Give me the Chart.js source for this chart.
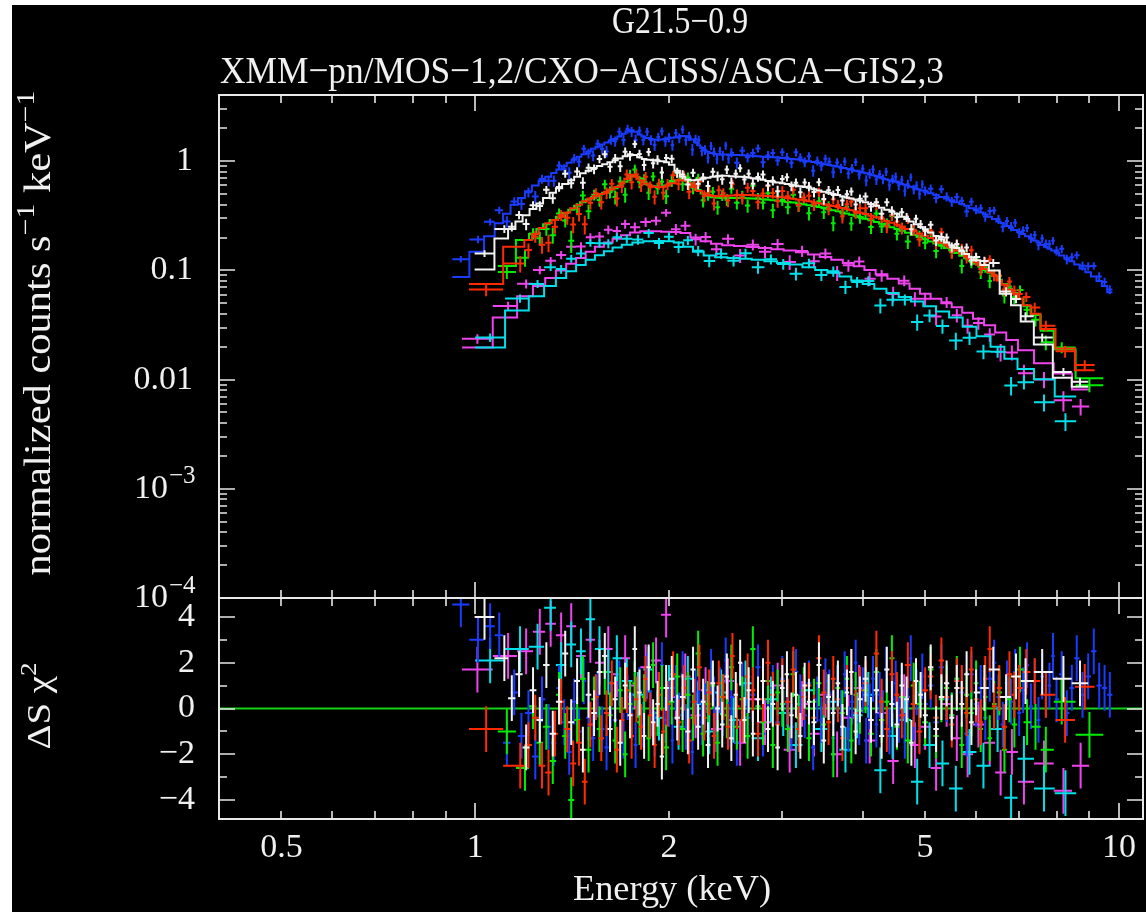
<!DOCTYPE html>
<html><head><meta charset="utf-8">
<script src="https://cdn.jsdelivr.net/npm/chart.js@4/dist/chart.umd.min.js"></script>
<style>
html,body{margin:0;padding:0;background:#fff;}
#wrap{position:absolute;left:0;top:0;width:1146px;height:912px;overflow:hidden;}
#bg{position:absolute;left:12px;top:5px;width:1134px;height:907px;background:#000;}
canvas{position:absolute;left:0;top:0;width:1146px;height:912px;}
</style></head><body>
<div id="wrap"><div id="bg"></div>
<canvas id="topc" width="1146" height="912"></canvas>
<canvas id="botc" width="1146" height="912"></canvas>
</div>
<script>
// ---------------- DATA ----------------
// energies = bin centres (keV); model = folded model (step line); resid = delta-chi residual
const energyWhite = [1.034,1.11,
1.14,1.17,1.20,1.23,1.26,1.29,1.32,1.35,1.38,1.41,1.44,1.47,1.50,1.53,1.56,1.59,1.62,1.65,1.68,1.71,1.74,1.77,1.80,1.83,1.86,1.89,1.92,1.95,1.98,
2.02,2.06,2.10,2.14,2.18,2.22,2.26,2.30,2.34,2.38,2.42,2.46,2.50,2.54,2.58,2.62,2.66,2.70,2.75,2.80,2.85,2.90,2.95,3.00,3.05,3.10,3.15,3.20,3.25,3.30,3.36,3.42,3.48,3.54,3.60,3.66,3.72,3.78,3.84,3.90,3.96,
4.04,4.12,4.20,4.28,4.36,4.44,4.52,4.60,4.68,4.76,4.84,4.92,5.00,5.10,5.20,5.30,5.40,5.50,5.60,5.70,5.80,5.90,6.00,6.18,6.38,
6.68,6.92,7.16,7.60,8.20,8.70];
const modelWhite = [0.102,0.196,
0.24,0.28,0.32,0.365,0.41,0.46,0.515,0.565,0.62,0.67,0.72,0.775,0.82,0.865,0.905,0.94,0.98,1.02,1.06,1.11,1.16,1.14,1.09,1.05,1.03,1.02,1.01,1.00,0.98,
0.93,0.82,0.72,0.68,0.67,0.675,0.69,0.705,0.72,0.73,0.735,0.735,0.73,0.725,0.72,0.715,0.71,0.70,0.69,0.675,0.66,0.65,0.64,0.63,0.62,0.61,0.60,0.59,0.58,0.57,0.555,0.54,0.525,0.515,0.50,0.49,0.475,0.465,0.455,0.445,0.435,
0.42,0.405,0.39,0.375,0.36,0.345,0.33,0.31,0.295,0.28,0.265,0.25,0.238,0.222,0.207,0.193,0.18,0.17,0.16,0.15,0.141,0.132,0.124,0.112,0.10,
0.061,0.048,0.034,0.021,0.0104,0.0086];
const residWhite = [4.0,2.2,
0.45,1.5,-1.7,0.8,-0.5,1.9,-1.1,0.3,2.4,-0.6,1.2,-1.8,0.6,-0.2,1.6,2.3,-0.9,0.4,-1.5,1.0,-0.3,2.6,0.7,-1.2,1.8,-0.6,0.2,-2.1,0.9,
1.3,-0.4,0.5,-1.0,1.7,-0.8,0.3,-1.6,1.1,0.0,-0.7,1.4,-1.3,0.6,2.0,-0.5,0.8,-1.1,0.4,1.2,-0.9,0.2,-1.7,0.9,1.5,-0.3,0.6,-1.2,1.0,0.3,-0.6,1.9,-1.4,0.5,-0.2,1.1,-0.8,0.7,1.6,-1.0,0.4,
1.3,-0.5,0.8,-1.2,1.7,0.2,-0.7,1.0,0.4,-1.5,1.2,0.6,-0.3,1.8,-0.9,0.5,1.1,-0.4,0.9,0.2,1.5,-0.6,0.7,0.9,1.7,
0.5,1.4,1.2,1.6,1.3,1.1];

const energyRed = [1.04,1.175,
1.21,1.24,1.27,1.30,1.33,1.36,1.39,1.42,1.45,1.48,1.51,1.54,1.57,1.60,1.63,1.66,1.69,1.72,1.75,1.78,1.81,1.84,1.87,1.90,1.93,1.96,1.99,
2.03,2.07,2.11,2.15,2.19,2.23,2.27,2.31,2.35,2.39,2.43,2.47,2.51,2.55,2.60,2.65,2.70,2.75,2.80,2.85,2.90,2.95,3.00,3.06,3.12,3.18,3.24,3.30,3.36,3.42,3.48,3.54,3.60,3.66,3.72,3.78,3.84,3.90,3.96,
4.04,4.12,4.20,4.28,4.36,4.44,4.52,4.60,4.70,4.80,4.90,5.00,5.10,5.20,5.30,5.40,5.50,5.60,5.70,5.80,5.90,6.00,6.10,6.20,6.30,6.40,6.52,6.64,6.76,6.88,7.00,7.18,
7.40,7.70,8.25,8.85];
const modelRed = [0.075,0.165,
0.19,0.215,0.245,0.27,0.29,0.31,0.34,0.37,0.40,0.43,0.455,0.48,0.50,0.525,0.55,0.58,0.625,0.69,0.75,0.72,0.665,0.625,0.60,0.585,0.58,0.585,0.60,
0.63,0.67,0.665,0.63,0.58,0.535,0.505,0.49,0.48,0.478,0.48,0.482,0.485,0.487,0.49,0.49,0.488,0.486,0.483,0.48,0.476,0.472,0.467,0.461,0.454,0.446,0.438,0.43,0.421,0.412,0.404,0.396,0.388,0.38,0.372,0.364,0.356,0.347,0.338,
0.328,0.317,0.306,0.295,0.284,0.273,0.262,0.252,0.24,0.229,0.218,0.208,0.198,0.189,0.179,0.17,0.161,0.152,0.143,0.135,0.127,0.119,0.111,0.103,0.096,0.089,0.081,0.074,0.067,0.061,0.055,0.048,
0.040,0.029,0.0193,0.0122];
const residRed = [-0.9,-2.5,
-1.6,-0.4,-2.5,-2.8,-1.1,0.3,-0.9,-2.4,-1.5,-3.2,-0.7,0.5,-1.3,-0.2,1.1,-1.8,-0.5,0.8,-1.2,0.4,-0.8,1.3,-0.3,-1.6,0.6,-1.0,0.2,
1.5,-0.6,0.9,-1.4,0.3,1.8,-0.4,0.7,-1.2,1.1,0.5,-0.8,2.3,0.1,-0.5,1.4,0.8,-1.1,0.4,2.0,0.6,-0.7,1.2,0.3,1.7,-0.9,0.5,1.0,-0.4,2.2,0.7,-0.6,1.3,0.4,-1.3,0.9,1.6,-0.2,0.8,
1.1,-0.5,2.4,0.3,-0.9,1.5,0.6,-0.3,1.9,0.2,-1.0,0.8,1.4,-0.4,2.1,0.5,-0.7,1.2,0.9,-0.2,1.7,0.4,-0.6,1.3,2.6,0.1,0.9,-0.8,1.5,0.6,0.9,1.6,
1.2,0.6,-0.5,0.95];

const energyGreen = [1.12,1.195,
1.23,1.26,1.29,1.32,1.35,1.38,1.41,1.44,1.47,1.50,1.53,1.56,1.59,1.62,1.65,1.68,1.71,1.74,1.77,1.80,1.83,1.86,1.89,1.92,1.95,1.98,
2.02,2.06,2.10,2.14,2.18,2.22,2.26,2.30,2.34,2.38,2.42,2.46,2.50,2.55,2.60,2.65,2.70,2.75,2.80,2.85,2.90,2.95,3.00,3.06,3.12,3.18,3.24,3.30,3.36,3.42,3.48,3.54,3.60,3.66,3.72,3.78,3.84,3.90,3.96,
4.04,4.12,4.20,4.28,4.36,4.44,4.52,4.60,4.70,4.80,4.90,5.00,5.10,5.20,5.30,5.40,5.50,5.60,5.70,5.80,5.90,6.00,6.10,6.20,6.30,6.40,6.52,6.64,6.76,6.88,7.02,7.20,
7.42,7.70,8.15,9.0];
const modelGreen = [0.11,0.19,
0.215,0.24,0.265,0.29,0.31,0.335,0.36,0.39,0.42,0.445,0.47,0.495,0.515,0.54,0.565,0.595,0.65,0.73,0.74,0.70,0.645,0.61,0.59,0.58,0.585,0.60,
0.635,0.67,0.69,0.66,0.60,0.545,0.505,0.48,0.468,0.462,0.46,0.46,0.46,0.46,0.46,0.458,0.455,0.452,0.448,0.444,0.44,0.435,0.43,0.424,0.418,0.411,0.404,0.396,0.388,0.38,0.372,0.364,0.356,0.348,0.34,0.332,0.324,0.316,0.308,
0.298,0.288,0.278,0.268,0.258,0.249,0.24,0.231,0.221,0.211,0.202,0.193,0.184,0.176,0.168,0.16,0.152,0.144,0.136,0.129,0.122,0.115,0.108,0.101,0.095,0.089,0.082,0.075,0.068,0.062,0.055,0.047,
0.039,0.028,0.019,0.0103];
const residGreen = [-1.0,-2.6,
0.1,-1.5,-0.8,-2.3,0.6,-1.2,-4.0,-0.5,1.3,-1.8,0.4,-0.9,1.6,-0.3,-1.4,0.8,-2.0,0.2,1.1,-0.6,0.5,-1.3,1.9,-0.2,0.9,-1.7,
0.3,1.4,-0.9,0.6,-0.4,2.4,-1.1,0.2,1.0,-1.5,0.5,-0.3,1.8,-0.8,0.4,-1.2,2.6,0.1,-0.6,1.2,-1.6,0.7,0.2,-0.9,1.5,-0.4,0.8,-1.3,0.3,1.1,-0.7,0.5,-2.0,0.9,-0.2,1.3,-1.4,0.6,-0.1,
0.8,-1.1,1.6,-0.5,0.3,2.2,-0.8,0.5,-1.4,1.0,0.2,-0.6,1.7,-1.2,0.4,0.9,-0.3,1.3,-1.6,0.6,-0.2,1.1,-0.9,0.5,-1.3,0.2,0.7,-1.8,0.4,-0.7,1.7,-0.6,
-0.8,-1.8,0.3,-1.15];

const energyBlue = [0.95,1.01,1.055,1.09,1.12,1.15,1.18,1.21,1.24,1.27,1.30,
1.325,1.35,1.375,1.40,1.425,1.45,1.475,1.50,1.525,1.55,1.575,1.60,1.625,1.65,1.675,1.70,1.725,1.75,1.775,1.80,1.825,1.85,1.875,1.90,1.925,1.95,1.975,2.00,2.025,2.05,2.075,2.10,2.125,2.15,2.175,2.20,2.225,2.25,2.275,2.30,2.325,2.35,2.375,2.40,2.425,2.45,2.475,2.50,
2.55,2.60,2.65,2.70,2.75,2.80,2.85,2.90,2.95,3.00,3.05,3.10,3.15,3.20,3.25,3.30,3.35,3.40,3.45,3.50,3.55,3.60,3.65,3.70,3.75,3.80,3.85,3.90,3.95,4.00,4.05,4.10,4.15,4.20,4.25,4.30,4.35,4.40,4.45,4.50,4.55,4.60,4.65,4.70,4.75,4.80,4.85,4.90,4.95,5.00,
5.1,5.2,5.3,5.4,5.5,5.6,5.7,5.8,5.9,6.0,6.1,6.2,6.3,6.4,6.5,6.6,6.7,6.8,6.9,7.0,7.1,7.2,7.3,7.4,7.5,7.6,7.7,7.8,7.9,8.0,
8.15,8.3,8.45,8.6,8.78,8.96,9.14,9.32,9.5,9.68];
const modelBlue = [0.087,0.148,0.205,0.27,0.33,0.40,0.46,0.53,0.60,0.66,0.72,
0.78,0.84,0.90,0.97,1.03,1.10,1.16,1.23,1.30,1.36,1.42,1.48,1.54,1.60,1.68,1.78,1.88,1.92,1.86,1.76,1.68,1.63,1.60,1.58,1.57,1.58,1.60,1.62,1.64,1.66,1.68,1.70,1.69,1.65,1.58,1.49,1.40,1.32,1.26,1.22,1.19,1.17,1.16,1.15,1.15,1.15,1.14,1.14,
1.14,1.135,1.13,1.12,1.11,1.10,1.095,1.09,1.08,1.07,1.06,1.05,1.04,1.03,1.01,1.00,0.985,0.97,0.955,0.94,0.925,0.91,0.895,0.88,0.865,0.85,0.835,0.82,0.805,0.79,0.775,0.76,0.745,0.73,0.715,0.70,0.685,0.67,0.66,0.65,0.635,0.62,0.61,0.60,0.585,0.575,0.56,0.55,0.54,0.525,
0.51,0.49,0.47,0.455,0.44,0.42,0.405,0.39,0.37,0.355,0.34,0.325,0.31,0.295,0.28,0.27,0.255,0.245,0.235,0.225,0.215,0.205,0.196,0.188,0.18,0.172,0.165,0.158,0.152,0.146,
0.137,0.129,0.121,0.113,0.104,0.096,0.088,0.08,0.072,0.063];
const residBlue = [4.55,3.0,3.6,3.2,-1.5,0.7,-1.2,-0.2,-2.1,0.4,-0.8,
-1.5,0.9,-0.6,-1.9,0.3,-1.0,1.2,-0.4,-1.3,0.6,-0.9,-1.7,0.2,-0.5,1.1,-1.2,0.5,-0.3,-1.6,0.8,-0.7,1.4,-0.2,-1.1,0.6,1.9,-0.5,0.2,-1.4,0.9,-0.3,1.5,-0.8,0.3,-1.9,0.7,1.2,-0.6,0.1,-1.2,1.6,0.4,-0.9,0.8,-0.2,2.1,-0.7,0.5,
-1.5,1.0,-0.4,0.6,1.8,-1.1,0.3,0.9,-0.6,1.3,0.2,-0.8,1.6,0.5,-0.3,1.1,-1.7,0.4,-0.5,1.2,0.7,-1.3,0.9,-0.2,1.5,-0.9,0.3,2.0,-0.6,0.8,-1.4,0.1,1.3,-0.7,0.6,-0.2,1.7,-1.0,0.4,1.1,-0.5,0.9,-1.2,0.3,2.2,-0.4,0.7,-0.9,1.4,0.2,
1.0,-0.6,1.8,0.4,-0.3,1.2,0.7,-1.1,1.5,0.2,0.9,-0.4,1.3,2.0,0.5,-0.7,1.1,0.3,1.6,-0.2,0.8,1.9,0.1,1.2,-0.5,1.4,0.6,1.0,2.3,0.4,
1.5,-0.2,0.9,2.2,0.6,1.4,2.5,1.0,0.9,0.6];

const energyCyan = [1.055,1.174,1.25,1.31,1.36,1.41,1.46,1.51,1.56,1.61,1.66,1.72,1.79,1.86,1.93,2.00,2.07,2.14,2.22,2.31,2.41,2.52,2.63,2.75,2.88,3.01,3.15,3.30,3.45,3.60,3.76,3.92,4.08,4.26,4.45,4.65,4.86,5.08,5.32,5.58,5.86,6.16,6.48,6.80,7.12,7.65,8.26];
const modelCyan = [0.0197,0.043,0.058,0.072,0.085,0.098,0.112,0.125,0.138,0.15,
0.162,0.172,0.18,0.185,0.186,0.185,0.18,0.165,0.148,0.137,
0.132,0.13,0.128,0.125,0.121,0.117,0.113,0.107,0.101,0.095,
0.088,0.081,0.075,0.068,0.062,0.057,0.052,0.047,0.042,0.037,
0.0305,0.025,0.02,0.0155,0.0125,0.0101,0.0070];
const residCyan = [2.1,2.6,2.7,4.4,1.9,2.8,2.5,3.9,2.6,1.6,
2.2,1.2,0.6,1.7,-0.4,0.9,-0.8,1.3,0.2,-1.0,
0.7,-0.5,1.1,-1.3,0.4,-0.2,-1.6,0.8,-0.9,0.3,
-1.8,-0.3,0.6,-2.7,-1.2,-0.5,-3.2,-1.6,-2.4,-3.5,
-1.9,-2.5,-0.9,-3.9,-2.2,-3.5,-3.7];

const energyMagenta = [1.008,1.125,1.20,1.26,1.31,1.36,1.41,1.46,1.51,1.56,1.61,1.66,1.71,1.77,1.84,1.91,1.98,2.05,2.12,2.20,2.28,2.37,2.47,2.58,2.70,2.82,2.95,3.08,3.22,3.36,3.50,3.65,3.80,3.95,4.10,4.28,4.46,4.64,4.82,5.00,5.20,5.40,5.60,5.82,6.05,6.30,6.55,6.82,7.12,7.65,8.20,8.72];
const modelMagenta = [0.0197,0.037,0.058,0.072,0.085,0.10,0.115,0.13,0.148,0.165,
0.18,0.195,0.21,0.222,0.228,0.228,0.226,0.225,0.22,0.20,
0.185,0.175,0.17,0.167,0.164,0.16,0.156,0.152,0.147,0.14,
0.133,0.125,0.117,0.109,0.101,0.092,0.084,0.076,0.068,0.061,
0.055,0.05,0.046,0.041,0.036,0.0315,0.027,0.023,0.0186,0.0141,0.0114,0.0081];
const residMagenta = [1.7,2.3,2.5,3.35,3.7,3.2,3.6,2.3,3.0,2.0,
2.6,1.5,2.2,1.0,1.8,2.1,4.1,0.5,1.4,-0.3,
0.8,-0.9,1.2,-1.5,0.4,-0.6,1.0,-1.8,0.2,-1.1,
0.6,-2.0,-0.4,0.9,-1.4,-0.2,-2.3,0.5,-1.6,-0.8,
-2.6,0.2,-1.3,-2.0,-0.7,-1.5,-2.8,-1.9,-3.2,-2.4,-3.6,-2.5];

// fractional 1-sigma error of each data group
const seriesErrFrac = [0.10,0.12,0.12,0.10,0.11,0.12];
const seriesColors = ['#f2f2f2','#ff2a00','#00ee00','#1a3cff','#00e0ea','#ee44ee'];

// axes / tick labels
const xMinorTicks = [0.5,0.6,0.7,0.8,0.9,2,3,4,5,6,7,8,9];
const xMajorTicks = [1,10];
const xTickValues = [0.5,1,2,5,10];
const xTickLabels = ['0.5','1','2','5','10'];
const yTickValues = [1,0.1,0.01,1e-3,1e-4];
const yTickBase = ['1','0.1','0.01','10','10'];
const yTickExp = ['','','','\u22123','\u22124'];
const resTickValues = [4,2,0,-2,-4];
const resTickLabels = ['4','2','0','\u22122','\u22124'];
const resMinorTicks = [3,1,-1,-3];

// ---------------- BUILD ----------------
const series = [
  {E:energyWhite,M:modelWhite,R:residWhite},
  {E:energyRed,M:modelRed,R:residRed},
  {E:energyGreen,M:modelGreen,R:residGreen},
  {E:energyBlue,M:modelBlue,R:residBlue},
  {E:energyCyan,M:modelCyan,R:residCyan},
  {E:energyMagenta,M:modelMagenta,R:residMagenta}
];
function binEdges(E){
  const n=E.length, lo=[], hi=[];
  for(let i=0;i<n;i++){
    lo[i] = i>0 ? Math.sqrt(E[i-1]*E[i]) : null;
    hi[i] = i<n-1 ? Math.sqrt(E[i]*E[i+1]) : null;
  }
  lo[0] = E[0]*E[0]/hi[0];
  hi[n-1] = E[n-1]*E[n-1]/lo[n-1];
  return {lo,hi};
}
const topDatasets=[], botDatasets=[];
series.forEach((s,k)=>{
  const {lo,hi} = binEdges(s.E);
  const col = seriesColors[k], f = seriesErrFrac[k];
  const stepPts = [{x:lo[0],y:s.M[0]}].concat(s.E.map((e,i)=>({x:e,y:s.M[i]})), [{x:hi[hi.length-1],y:s.M[s.M.length-1]}]);
  topDatasets.push({type:'line',data:stepPts,stepped:'middle',borderColor:col,borderWidth:2,pointRadius:0,fill:false});
  const dat = s.E.map((e,i)=>({x:e,y:s.M[i]*(1+s.R[i]*f)}));
  topDatasets.push({type:'scatter',data:dat,showLine:false,pointRadius:0,borderColor:col,
    err:s.E.map((e,i)=>({xlo:lo[i],xhi:hi[i],ylo:dat[i].y-f*s.M[i],yhi:dat[i].y+f*s.M[i]}))});
  botDatasets.push({type:'scatter',data:s.E.map((e,i)=>({x:e,y:s.R[i]})),showLine:false,pointRadius:0,borderColor:col,
    err:s.E.map((e,i)=>({xlo:lo[i],xhi:hi[i],ylo:s.R[i]-1,yhi:s.R[i]+1}))});
});
botDatasets.push({type:'line',data:[{x:0.4,y:0},{x:10.9,y:0}],borderColor:'#14d214',borderWidth:2,pointRadius:0,fill:false});

// ---------------- DRAW HELPERS ----------------
const FAM = '"Liberation Serif","Times New Roman",serif';
const TXT = '#f0f0f0', FRAME = '#e8e8e8';
function richWidth(ctx, parts, fs){
  let w=0; parts.forEach(p=>{ctx.font=(p.sup?fs*0.7:fs)+'px '+FAM; w+=ctx.measureText(p.t).width;}); return w;
}
function drawRich(ctx, parts, x, y, fs, o){
  o=o||{};
  ctx.save(); ctx.translate(x,y); if(o.rot) ctx.rotate(o.rot);
  const W=richWidth(ctx,parts,fs); const s=o.width?o.width/W:1; ctx.scale(s,1);
  let cx=-W*(o.align||0);
  ctx.textAlign='left'; ctx.textBaseline=o.baseline||'alphabetic'; ctx.fillStyle=TXT;
  parts.forEach(p=>{const f=p.sup?fs*0.7:fs; ctx.font=f+'px '+FAM; ctx.fillText(p.t,cx,p.sup?-fs*0.42:0); cx+=ctx.measureText(p.t).width;});
  ctx.restore();
}

const errPlugin = {
  id:'errbars',
  afterDatasetDraw(chart,args){
    const ds=chart.data.datasets[args.index]; if(!ds.err) return;
    const ctx=chart.ctx, xs=chart.scales.x, ys=chart.scales.y, a=chart.chartArea;
    ctx.save(); ctx.beginPath(); ctx.rect(a.left,a.top,a.right-a.left,a.bottom-a.top); ctx.clip();
    ctx.strokeStyle=ds.borderColor; ctx.lineWidth=2; ctx.beginPath();
    ds.data.forEach((p,i)=>{
      const e=ds.err[i], px=xs.getPixelForValue(p.x), py=ys.getPixelForValue(p.y);
      ctx.moveTo(xs.getPixelForValue(e.xlo),py); ctx.lineTo(xs.getPixelForValue(e.xhi),py);
      ctx.moveTo(px,ys.getPixelForValue(e.ylo)); ctx.lineTo(px,ys.getPixelForValue(e.yhi));
    });
    ctx.stroke(); ctx.restore();
  }
};

function drawFrame(chart, yMajor, yMinor){
  const ctx=chart.ctx, a=chart.chartArea, xs=chart.scales.x, ys=chart.scales.y;
  ctx.save(); ctx.strokeStyle=FRAME; ctx.lineWidth=2;
  ctx.strokeRect(a.left,a.top,a.right-a.left,a.bottom-a.top);
  ctx.lineWidth=1.6; ctx.beginPath();
  const xt=(v,len)=>{const p=Math.round(xs.getPixelForValue(v)); ctx.moveTo(p,a.top); ctx.lineTo(p,a.top+len); ctx.moveTo(p,a.bottom); ctx.lineTo(p,a.bottom-len);};
  const yt=(v,len)=>{const p=Math.round(ys.getPixelForValue(v)); ctx.moveTo(a.left,p); ctx.lineTo(a.left+len,p); ctx.moveTo(a.right,p); ctx.lineTo(a.right-len,p);};
  xMinorTicks.forEach(v=>xt(v,8)); xMajorTicks.forEach(v=>xt(v,16));
  yMinor.forEach(v=>yt(v,8)); yMajor.forEach(v=>yt(v,16));
  ctx.stroke(); ctx.restore();
}

const topPlugin = {
  id:'topdeco',
  afterDraw(chart){
    const ys=chart.scales.y, ctx=chart.ctx;
    const minors=[];
    for(let d=-4; d<=0; d++){ for(let k=2;k<=9;k++){ const v=k*Math.pow(10,d); if(v<=ys.max) minors.push(v);} }
    drawFrame(chart, yTickValues, minors);
    yTickValues.forEach((v,i)=>{
      const py=ys.getPixelForValue(v);
      if(!yTickExp[i]) drawRich(ctx,[{t:yTickBase[i]}],193,py,34,{align:1,baseline:'middle'});
      else { drawRich(ctx,[{t:yTickBase[i]}],168,py,34,{align:1,baseline:'middle'});
             drawRich(ctx,[{t:yTickExp[i]}],169,py-12,25,{align:0,baseline:'middle'}); }
    });
    drawRich(ctx,[{t:'G21.5\u22120.9'}],680,33,37,{align:0.5,width:136});
    drawRich(ctx,[{t:'XMM\u2212pn/MOS\u22121,2/CXO\u2212ACISS/ASCA\u2212GIS2,3'}],220,83,38,{align:0,width:724});
    drawRich(ctx,[{t:'normalized counts s'},{t:'\u22121',sup:1},{t:' keV'},{t:'\u22121',sup:1}],50,333,37,{rot:-Math.PI/2,align:0.5,width:485});
  }
};
const botPlugin = {
  id:'botdeco',
  afterDraw(chart){
    const xs=chart.scales.x, ys=chart.scales.y, ctx=chart.ctx;
    drawFrame(chart, resTickValues, resMinorTicks);
    resTickValues.forEach((v,i)=>drawRich(ctx,[{t:resTickLabels[i]}],195,ys.getPixelForValue(v),34,{align:1,baseline:'middle'}));
    xTickValues.forEach((v,i)=>drawRich(ctx,[{t:xTickLabels[i]}],xs.getPixelForValue(v),848,34,{align:0.5,baseline:'middle'}));
    drawRich(ctx,[{t:'Energy (keV)'}],672,900,35,{align:0.5,width:198});
    drawRich(ctx,[{t:'\u0394S \u03c7'},{t:'2',sup:1}],50,706,34,{rot:-Math.PI/2,align:0.5,width:87});
  }
};

function makeChart(id, datasets, padding, yScale, deco){
  return new Chart(document.getElementById(id),{
    type:'scatter',
    data:{datasets},
    options:{
      responsive:false, maintainAspectRatio:false, animation:false, events:[], devicePixelRatio:1,
      layout:{padding},
      plugins:{legend:{display:false},tooltip:{enabled:false},title:{display:false}},
      scales:{
        x:{type:'logarithmic',min:0.4,max:10.9,display:false},
        y:yScale
      }
    },
    plugins:[errPlugin,deco]
  });
}
makeChart('topc', topDatasets, {left:219,top:95,right:3,bottom:314},
  {type:'logarithmic',min:1e-4,max:4.04,display:false}, topPlugin);
makeChart('botc', botDatasets, {left:219,top:598,right:3,bottom:93},
  {type:'linear',min:-4.83,max:4.83,display:false}, botPlugin);
</script>
</body></html>
